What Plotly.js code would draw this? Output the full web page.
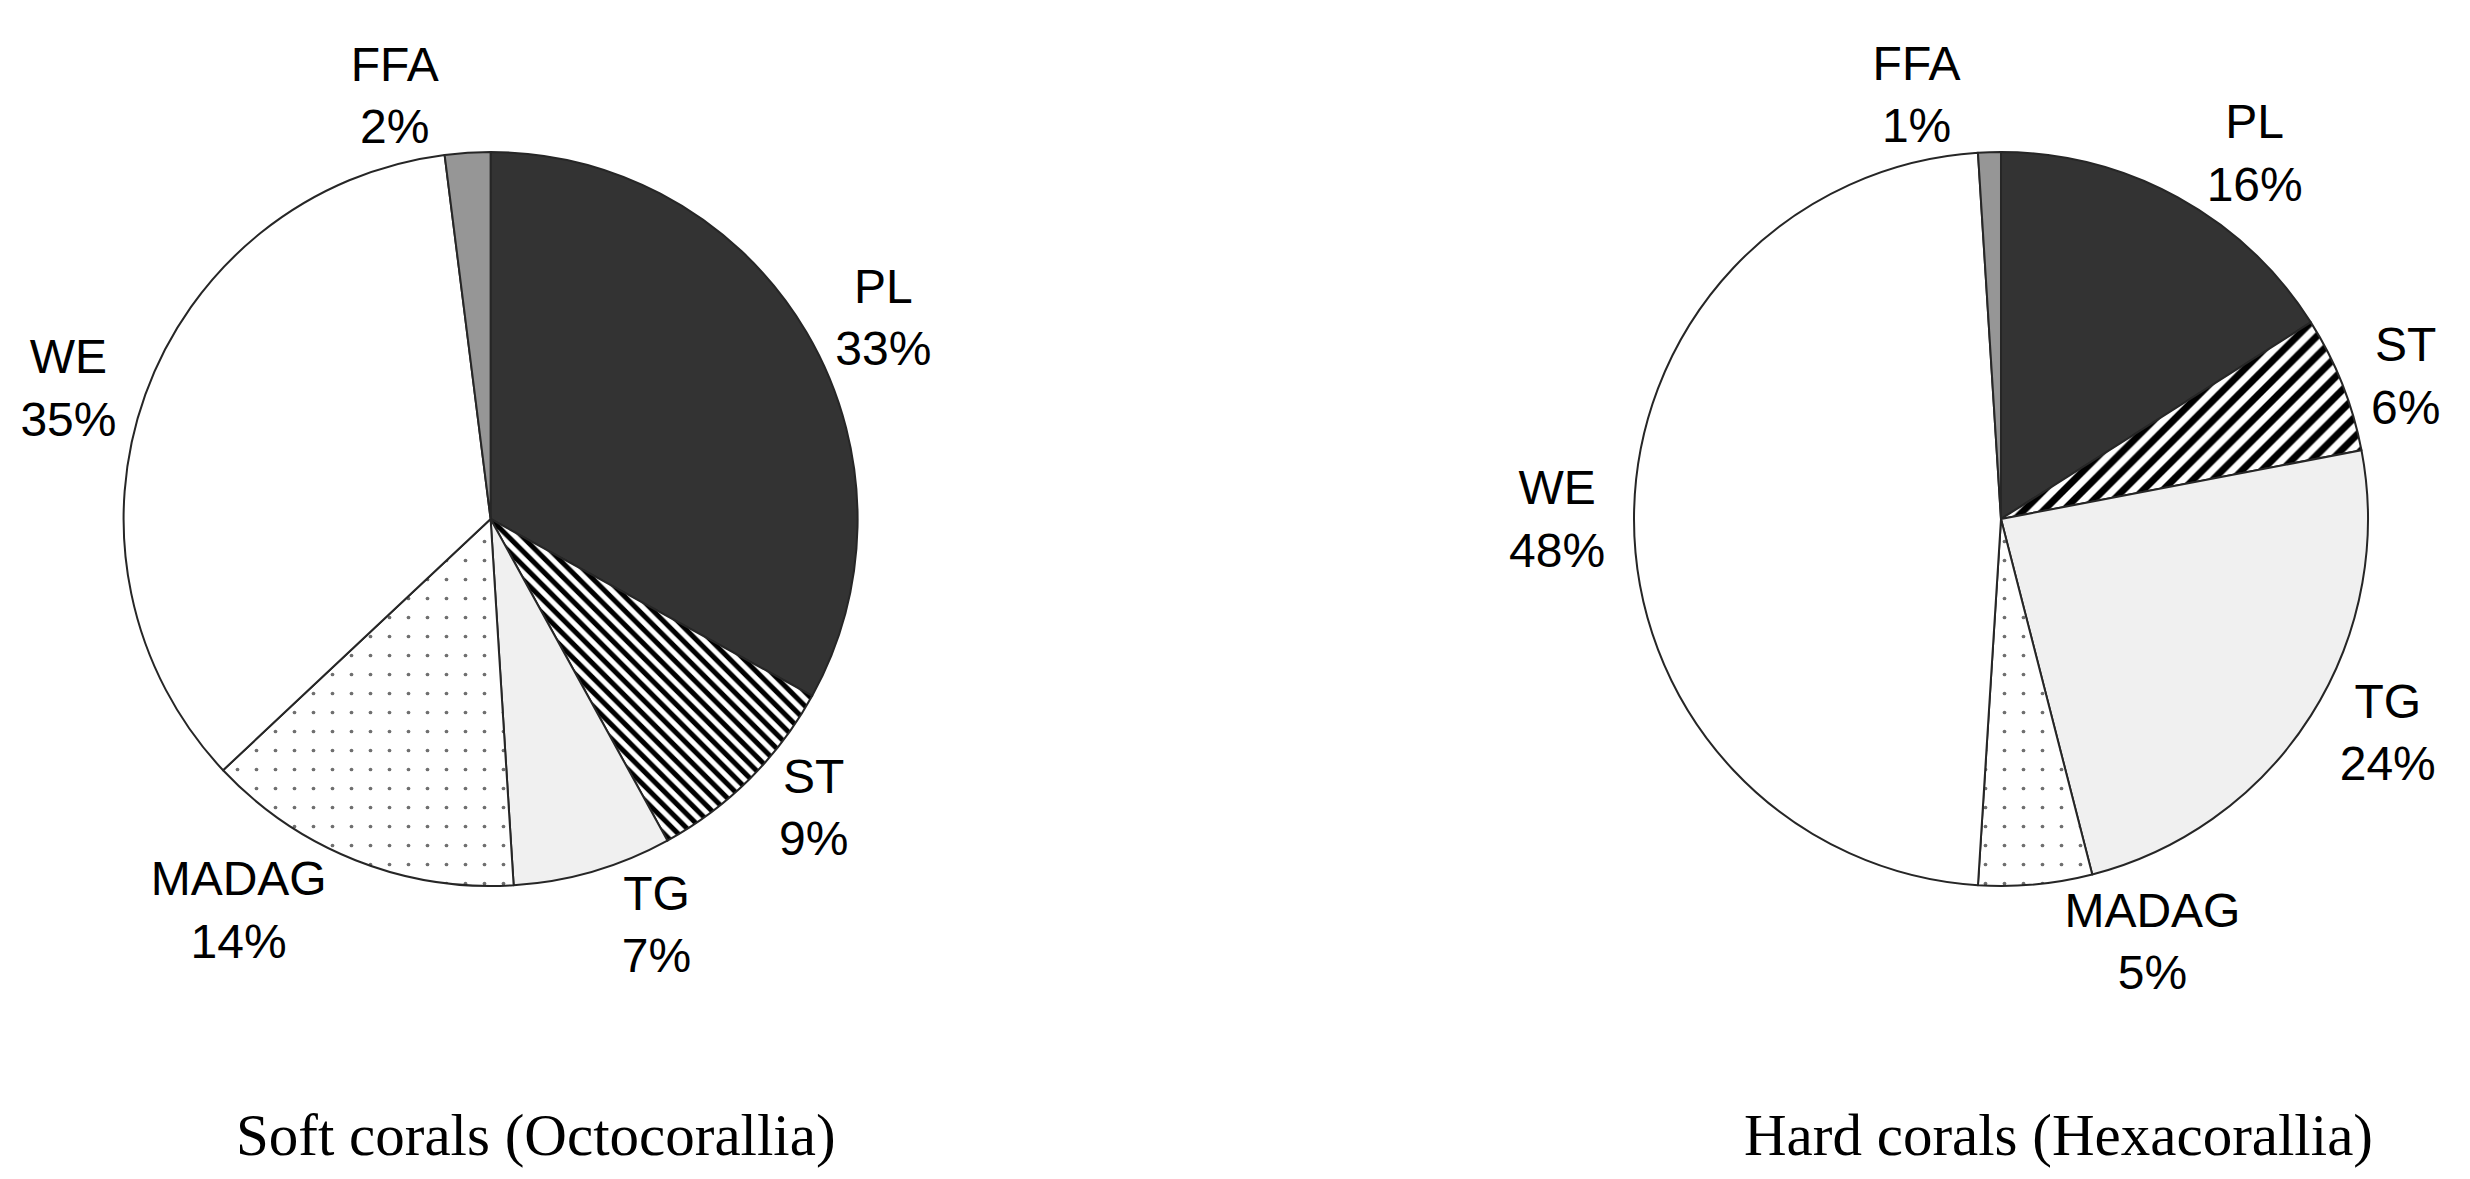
<!DOCTYPE html>
<html>
<head>
<meta charset="utf-8">
<script src="https://cdn.plot.ly/plotly-3.0.1.min.js"></script>
<style>html,body{margin:0;padding:0;background:#fff;}#chart{width:2470px;height:1179px;}</style>
</head>
<body>
<div id="chart"></div>
<script>
const categories = ["PL", "ST", "TG", "MADAG", "WE", "FFA"];
const softValues = [33, 9, 7, 14, 35, 2];
const hardValues = [16, 6, 24, 5, 48, 1];
const softTitle = "Soft corals (Octocorallia)";
const hardTitle = "Hard corals (Hexacorallia)";

const fills = ["#333333", "#ffffff", "#f0f0f0", "#ffffff", "#ffffff", "#969696"];

function pattern(stripeShape, stripeSize) {
  return {
    shape: ["", stripeShape, "", ".", "", ""],
    fgcolor: ["#000", "#000", "#000", "#6f6f6f", "#000", "#000"],
    bgcolor: fills,
    size: [8, stripeSize, 8, 19, 8, 8],
    solidity: [0.3, 0.5, 0.3, 0.03, 0.3, 0.3],
    fillmode: "replace"
  };
}

const labelFont = {family: "Liberation Sans, Arial, sans-serif", size: 48, color: "#000"};

function pieTrace(values, domainX, stripeShape, stripeSize) {
  return {
    type: "pie",
    labels: categories,
    values: values,
    sort: false,
    direction: "clockwise",
    rotation: 0,
    domain: {x: domainX, y: [0.2485, 0.8711]},
    textposition: "outside",
    texttemplate: "%{label}<br>%{value}%",
    textfont: labelFont,
    outsidetextfont: labelFont,
    automargin: false,
    showlegend: false,
    hoverinfo: "label+value",
    marker: {
      colors: fills,
      line: {color: "#262626", width: 2},
      pattern: pattern(stripeShape, stripeSize)
    }
  };
}

const data = [
  pieTrace(softValues, [0.05004, 0.34721], "\\", 10),
  pieTrace(hardValues, [0.66154, 0.95870], "/", 14)
];

const titleFont = {family: "Liberation Serif, Times New Roman, serif", size: 59, color: "#000"};
const layout = {
  width: 2470,
  height: 1179,
  margin: {l: 0, r: 0, t: 0, b: 0},
  paper_bgcolor: "#ffffff",
  plot_bgcolor: "#ffffff",
  showlegend: false,
  annotations: [
    {text: softTitle, xref: "paper", yref: "paper", x: 0.217, y: 0.037, xanchor: "center", yanchor: "middle", showarrow: false, font: titleFont},
    {text: hardTitle, xref: "paper", yref: "paper", x: 0.8336, y: 0.037, xanchor: "center", yanchor: "middle", showarrow: false, font: titleFont}
  ]
};

Plotly.newPlot("chart", data, layout, {displayModeBar: false, staticPlot: true});
</script>
</body>
</html>
